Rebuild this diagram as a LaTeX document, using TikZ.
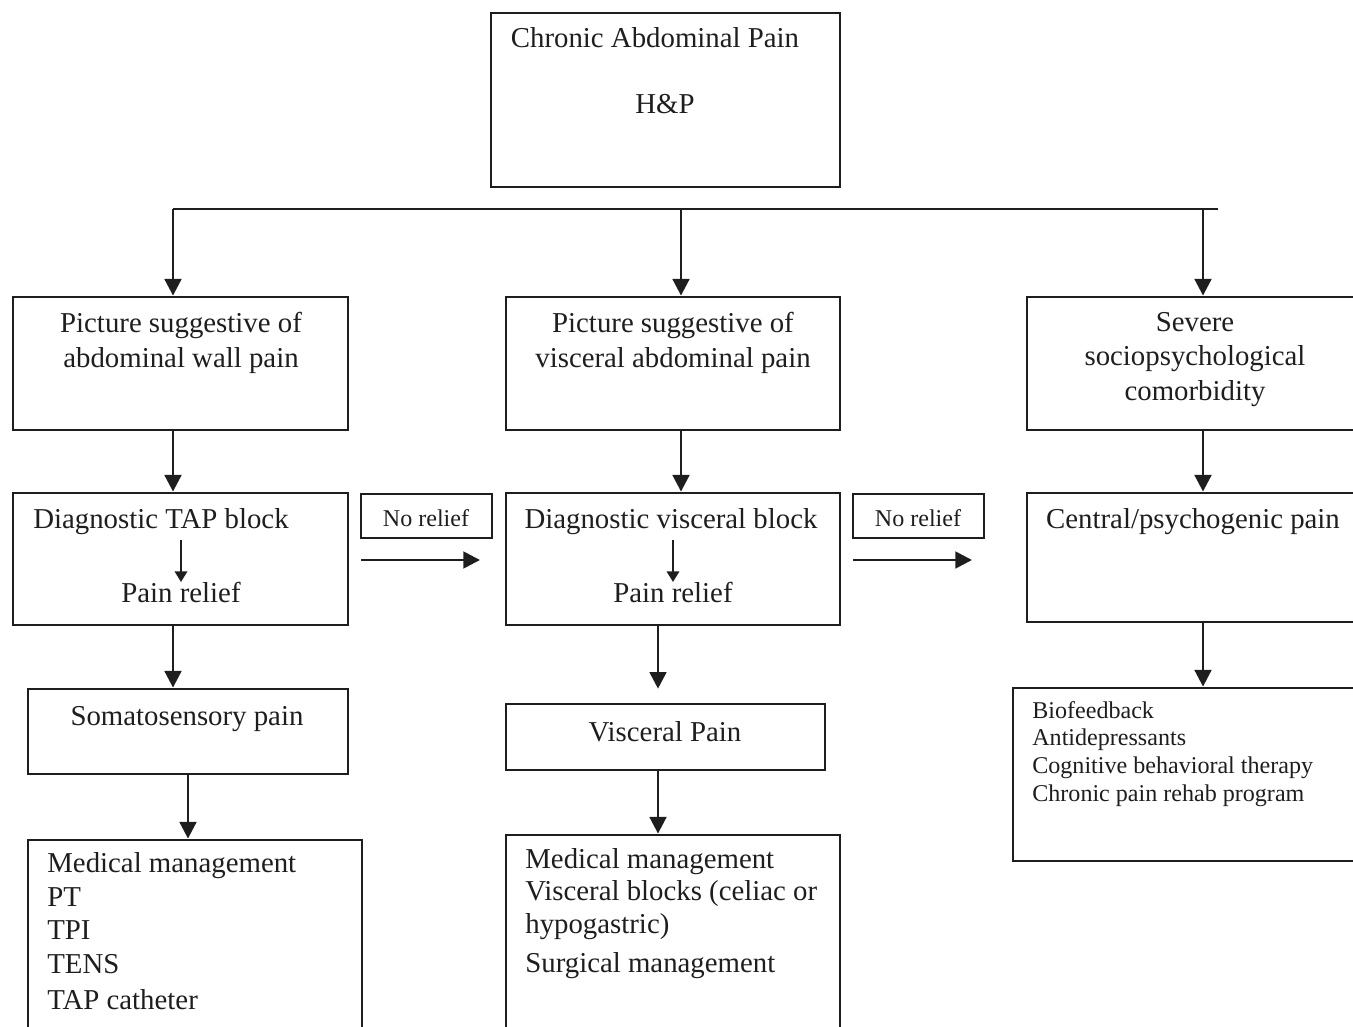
\documentclass[tikz,border=0pt]{standalone}
\usepackage{fontspec}
\setmainfont{Liberation Serif}
\usetikzlibrary{arrows.meta,fit}
\definecolor{ink}{RGB}{30,30,30}
\tikzset{
  box/.style={draw=ink, line width=1.6pt, inner sep=0pt},
  txt/.style={inner sep=0pt, text=ink, font=\fontsize{16.4}{19.6}\selectfont, align=center},
  small/.style={inner sep=0pt, text=ink, font=\fontsize{13.7}{15.7}\selectfont},
  line/.style={draw=ink, line width=1.6pt},
  arr/.style={line, -{Triangle[length=9.5pt,width=9.5pt]}},
  sarr/.style={draw=ink, line width=1.2pt, -{Triangle[length=6pt,width=7pt]}},
}
\begin{document}
\begin{tikzpicture}[x=0.02cm, y=-0.02cm]
\useasboundingbox (0,0) rectangle (1353,1027);
\clip (0,0) rectangle (1353,1027);

% top
\node[box, fit={(491,13) (840,187)}] (cap) {};
\node[txt, anchor=north] (capt) at (655,27) {Chronic Abdominal Pain};
\node[txt, anchor=north] (hp) at (665,94) {H\&P};

% second row
\node[box, fit={(13,297) (348,430)}] (wall) {};
\node[txt, anchor=north] (wallt) at (181,312) {Picture suggestive of\\abdominal wall pain};
\node[box, fit={(506,297) (840,430)}] (visceral) {};
\node[txt, anchor=north] (visceralt) at (673,312) {Picture suggestive of\\visceral abdominal pain};
\node[box, fit={(1027,297) (1400,430)}] (severe) {};
\node[txt, anchor=north] (severet) at (1195,312) {Severe\\sociopsychological\\comorbidity};

% blocks
\node[box, fit={(13,493) (348,625)}] (tap) {};
\node[txt, anchor=north] (tapt) at (161,508) {Diagnostic TAP block};
\node[txt, anchor=north] (tapr) at (181,582) {Pain relief};
\node[box, fit={(361,494) (492,538)}] (nr1) {};
\node[small] (nr1t) at (426,518) {No relief};
\node[box, fit={(506,493) (840,625)}] (vblock) {};
\node[txt, anchor=north] (vblockt) at (671,508) {Diagnostic visceral block};
\node[txt, anchor=north] (vblockr) at (673,582) {Pain relief};
\node[box, fit={(853,494) (984,538)}] (nr2) {};
\node[small] (nr2t) at (918,518) {No relief};
\node[box, fit={(1027,493) (1400,622)}] (central) {};
\node[txt, anchor=north] (centralt) at (1193,508) {Central/psychogenic pain};

% pain type
\node[box, fit={(28,689) (348,774)}] (soma) {};
\node[txt, anchor=north] (somat) at (187,706) {Somatosensory pain};
\node[box, fit={(506,704) (825,770)}] (visc) {};
\node[txt, anchor=north] (visct) at (665,721) {Visceral Pain};
\node[box, fit={(1013,688) (1400,861)}] (psych) {};
\node[small, anchor=north west, align=left] (psycht) at (1032,701)
  {Biofeedback\\Antidepressants\\Cognitive behavioral therapy\\Chronic pain rehab program};

% management
\node[box, fit={(28,840) (362,1060)}] (wallmgmt) {};
\node[txt, anchor=north west, align=left, font=\fontsize{16.4}{19.2}\selectfont] (wallmgmtt) at (47,852)
  {Medical management\\PT\\TPI\\TENS\\[1pt]TAP catheter};
\node[box, fit={(506,835) (840,1060)}] (viscmgmt) {};
\node[txt, anchor=north west, align=left, font=\fontsize{16.4}{18.4}\selectfont] (viscmgmtt) at (525,848)
  {Medical management\\Visceral blocks (celiac or\\hypogastric)\\[4pt]Surgical management};

% connectors
\coordinate (bar1) at (173,209);
\coordinate (bar2) at (681,209);
\coordinate (bar3) at (1203,209);
\coordinate (barend) at (1218,209);
\draw[line] (bar1) -- (barend);
\draw[arr] (bar1) -- (bar1 |- wall.north);
\draw[arr] (bar2) -- (bar2 |- visceral.north);
\draw[arr] (bar3) -- (bar3 |- severe.north);

\draw[arr] (wall.south -| bar1) -- (tap.north -| bar1);
\draw[arr] (visceral.south -| bar2) -- (vblock.north -| bar2);
\draw[arr] (severe.south -| bar3) -- (central.north -| bar3);

\draw[sarr, shorten <=3pt] (tapr.north |- tapt.south) -- (tapr.north);
\draw[sarr, shorten <=3pt] (vblockr.north |- vblockt.south) -- (vblockr.north);

\coordinate (nr1s) at (361,560);
\coordinate (nr1e) at (480,560);
\coordinate (nr2s) at (853,560);
\coordinate (nr2e) at (972,560);
\draw[arr] (nr1s) -- (nr1e);
\draw[arr] (nr2s) -- (nr2e);

\coordinate (col1) at (188,0);
\coordinate (col2) at (658,0);
\draw[arr] (tap.south -| bar1) -- (soma.north -| bar1);
\draw[arr, shorten >=7.9pt] (vblock.south -| col2) -- (visc.north -| col2);
\draw[arr] (central.south -| bar3) -- (psych.north -| bar3);

\draw[arr] (soma.south -| col1) -- (wallmgmt.north -| col1);
\draw[arr] (visc.south -| col2) -- (viscmgmt.north -| col2);
\end{tikzpicture}
\end{document}
